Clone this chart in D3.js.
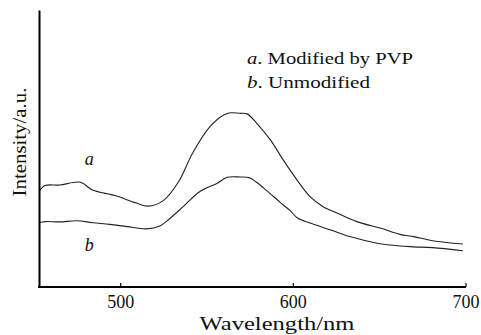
<!DOCTYPE html>
<html><head><meta charset="utf-8">
<script src="https://cdn.jsdelivr.net/npm/d3@7"></script>
<style>
body{margin:0;background:#fff;}
svg{display:block;}
text{font-family:"Liberation Serif","Times New Roman",serif;fill:#111;}
</style></head>
<body>
<svg id="c" width="481" height="335"></svg>
<script>
// Data (wavelength in nm, intensity in arbitrary units)
const wavelengthA = [453,456.5,465,477,484,497,509,516,525,534,542,552,560,564,569.5,573.5,579,587,594.5,602.5,610,617.5,626,637,651,662,670,681,698.5];
const intensityA  = [34.4,36.6,36.8,37.8,35.0,33.0,30.4,29.2,31.2,38.2,48.4,57.9,62.1,62.9,62.7,62.5,59.2,53.1,45.8,38.6,32.6,29.0,26.6,23.6,21.2,19.0,18.2,16.7,15.5];
const wavelengthB = [453,456.5,465,475,484,494,504,515,523,527,536.5,546,556,562,569.5,575,579,583,587,591,594.5,598.5,602.5,610,622,633,649,662,670,681,698.5];
const intensityB  = [23.2,23.6,23.5,23.9,23.2,22.6,21.8,21.0,22.0,23.8,29.0,34.4,37.4,39.6,39.7,39.4,37.8,35.8,33.6,31.5,29.6,27.6,25.0,23.1,20.6,18.2,15.8,14.8,14.5,14.2,13.1];
const xTicks = [500,600,700];
const seriesNames = ["Modified by PVP","Unmodified"];
const seriesKeys = ["a","b"];

const svg = d3.select("#c");
const x = d3.scaleLinear().domain([453,700]).range([39,465.5]);
const y = d3.scaleLinear().domain([0,100]).range([287,10]);

// curves
const line = d3.line().x(d=>x(d[0])).y(d=>y(d[1])).curve(d3.curveCatmullRom.alpha(0.5));
const dataA = wavelengthA.map((w,i)=>[w,intensityA[i]]);
const dataB = wavelengthB.map((w,i)=>[w,intensityB[i]]);
[dataA,dataB].forEach(d=>{
  svg.append("path").datum(d).attr("d",line)
    .attr("fill","none").attr("stroke","#222").attr("stroke-width",1.1);
});

// x axis
const xa = svg.append("g").attr("transform",`translate(0,${y(0)})`)
  .call(d3.axisBottom(x).tickValues(xTicks).tickFormat(d3.format("d")).tickSizeInner(-4).tickSizeOuter(0).tickPadding(8));
xa.select(".domain").attr("stroke","#000").attr("stroke-width",2).attr("d",`M${x.range()[0]-1},0H${x.range()[1]+0.5}`);
xa.selectAll(".tick line").attr("stroke","#000").attr("stroke-width",1.2);
xa.selectAll(".tick text").attr("font-size",18).attr("font-family","Liberation Serif").attr("fill","#111");

// y axis (no ticks)
const ya = svg.append("g").attr("transform",`translate(${x(453)},0)`)
  .call(d3.axisLeft(y).tickValues([]).tickSizeOuter(0));
ya.select(".domain").attr("stroke","#000").attr("stroke-width",2);

// axis titles
svg.append("text").attr("x",277).attr("y",330).attr("text-anchor","middle")
  .attr("font-size",18).attr("textLength",155).attr("lengthAdjust","spacingAndGlyphs")
  .text("Wavelength/nm");
svg.append("text").attr("transform","translate(26,142) rotate(-90)").attr("text-anchor","middle")
  .attr("font-size",18).attr("textLength",109).attr("lengthAdjust","spacingAndGlyphs")
  .text("Intensity/a.u.");

// curve labels
svg.append("text").attr("x",x(479.5)).attr("y",y(44)).attr("font-size",18).attr("font-style","italic").text(seriesKeys[0]);
svg.append("text").attr("x",x(479.5)).attr("y",y(13)).attr("font-size",18).attr("font-style","italic").text(seriesKeys[1]);

// legend
const lg = [[64,166],[88,123]];
seriesNames.forEach((n,i)=>{
  const t = svg.append("text").attr("x",247).attr("y",lg[i][0]).attr("font-size",17.5)
    .attr("textLength",lg[i][1]).attr("lengthAdjust","spacingAndGlyphs");
  t.append("tspan").attr("font-style","italic").text(seriesKeys[i]);
  t.append("tspan").text(". "+n);
});
</script>
</body></html>
